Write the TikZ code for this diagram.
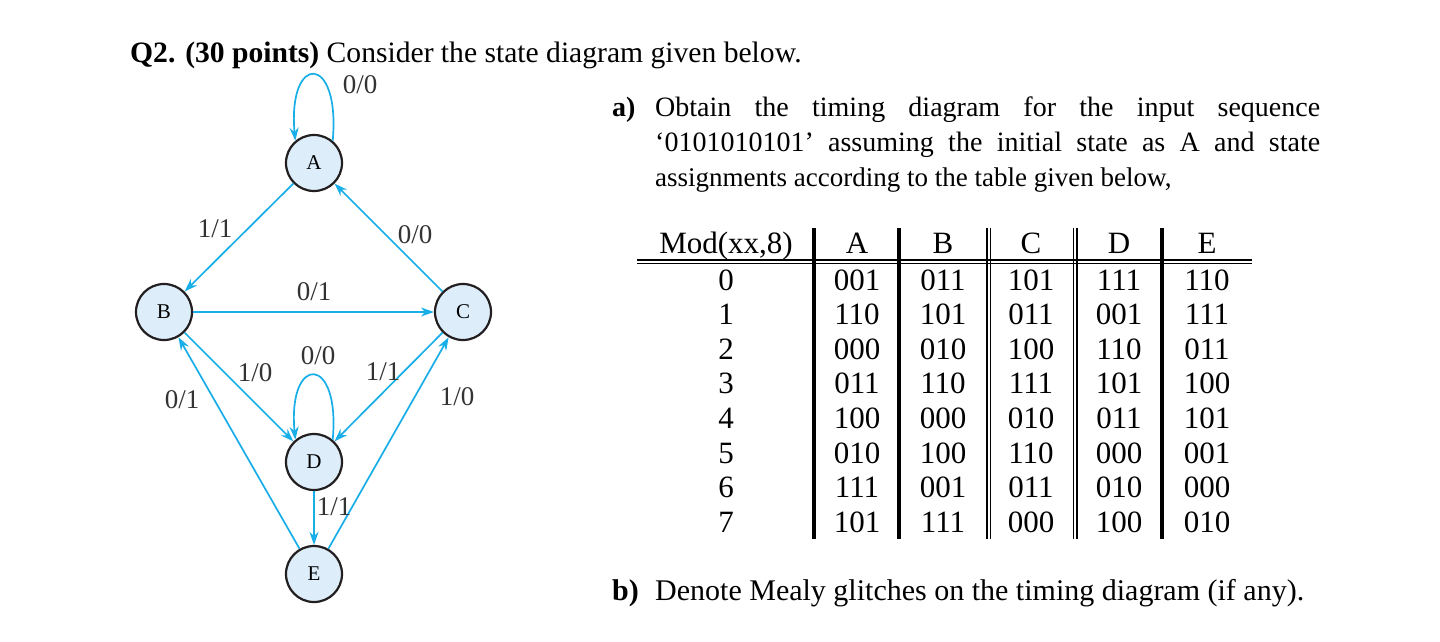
\documentclass[tikz,border=0pt]{standalone}
\usepackage{fontspec}
\setmainfont{Liberation Serif}
\usetikzlibrary{arrows.meta}
\definecolor{arrowcol}{HTML}{18AEE8}
\definecolor{nodefill}{HTML}{DDEEFA}
\definecolor{nodeborder}{HTML}{231F20}
\definecolor{labelcol}{HTML}{333333}
\begin{document}
\begin{tikzpicture}[x=1pt,y=-1pt,
  st/.style={circle,draw=nodeborder,line width=2.2pt,fill=nodefill,minimum size=56pt,inner sep=0pt,font=\fontsize{21}{21}\selectfont},
  edge/.style={draw=arrowcol,line width=1.7pt,-{Stealth[length=13pt,width=9pt]}},
  lbl/.style={font=\fontsize{27}{27}\selectfont,text=labelcol,inner sep=0pt},
  txt/.style={font=\fontsize{28}{28}\selectfont,inner sep=0pt,anchor=base west},
  cell/.style={font=\fontsize{31}{31}\selectfont,inner sep=0pt,anchor=base},
  heavyrule/.style={line width=4pt},
  lightrule/.style={line width=1.7pt}]
\useasboundingbox[fill=white] (0,0) rectangle (1440,641);

% title
\node[txt,font=\fontsize{29.6}{29.6}\selectfont] (title) at (130,62) {\textbf{Q2. (30 points)} Consider the state diagram given below.};

% states
\node[st] (A) at (314,163) {A};
\node[st] (B) at (164,312) {B};
\node[st] (C) at (463,312) {C};
\node[st] (D) at (314,462) {D};
\node[st] (E) at (314,574) {E};

% transitions
\draw[edge] (A.50) .. controls +(8,-88) and +(-8,-88) .. (A.130);
\draw[edge] (D.50) .. controls +(8,-86) and +(-8,-86) .. (D.130);
\draw[edge] (A) -- (B);
\draw[edge] (C) -- (A);
\draw[edge] (B) -- (C);
\draw[edge] (B) -- (D);
\draw[edge] (C) -- (D);
\draw[edge] (D) -- (E);
\draw[edge] (E) -- (B);
\draw[edge] (E) -- (C);

% transition labels
\node[lbl] (lAA) at (360,85) {0/0};
\node[lbl] (lAB) at (215,229) {1/1};
\node[lbl] (lCA) at (415,235) {0/0};
\node[lbl] (lBC) at (314,292) {0/1};
\node[lbl] (lDD) at (318,356) {0/0};
\node[lbl] (lBD) at (255,373) {1/0};
\node[lbl] (lCD) at (383,372) {1/1};
\node[lbl] (lEB) at (182,400) {0/1};
\node[lbl] (lEC) at (457,397) {1/0};
\node[lbl] (lDE) at (334,507) {1/1};

% part a
\node[txt] (alab) at (612,116) {\textbf{a)}};
\node[txt] (a1) at (655,116) {\makebox[665pt][s]{Obtain the timing diagram for the input sequence}};
\node[txt] (a2) at (655,151) {\makebox[665pt][s]{‘0101010101’ assuming the initial state as A and state}};
\node[txt,font=\fontsize{27}{27}\selectfont] (a3) at (655,186) {assignments according to the table given below,};

% table rules
\draw[lightrule] (637,260.2) -- (1252,260.2);
\draw[lightrule] (637,263.6) -- (1252,263.6);
\foreach \xx in {814,899,1162} \draw[heavyrule] (\xx,228) -- (\xx,539);
\foreach \xx in {987,990.4,1073.5,1076.9} \draw[lightrule] (\xx,228) -- (\xx,539);

% table header
\node[cell] (hM) at (726,253) {Mod(xx,8)};
\node[cell] (hA) at (857,253) {A};
\node[cell] (hB) at (943,253) {B};
\node[cell] (hC) at (1031,253) {C};
\node[cell] (hD) at (1119,253) {D};
\node[cell] (hE) at (1207,253) {E};

% table body
\foreach \r/\va/\vb/\vc/\vd/\ve [count=\i from 0] in
  {0/001/011/101/111/110, 1/110/101/011/001/111, 2/000/010/100/110/011,
   3/011/110/111/101/100, 4/100/000/010/011/101, 5/010/100/110/000/001,
   6/111/001/011/010/000, 7/101/111/000/100/010} {
  \pgfmathsetmacro\yy{290+34.6*\i}
  \node[cell] (m\i) at (726,\yy) {\r};
  \node[cell] (ca\i) at (857,\yy) {\va};
  \node[cell] (cb\i) at (943,\yy) {\vb};
  \node[cell] (cc\i) at (1031,\yy) {\vc};
  \node[cell] (cd\i) at (1119,\yy) {\vd};
  \node[cell] (ce\i) at (1207,\yy) {\ve};
}

% part b
\node[txt,font=\fontsize{30}{30}\selectfont] (blab) at (612,600) {\textbf{b)}};
\node[txt,font=\fontsize{30}{30}\selectfont] (b1) at (655,600) {Denote Mealy glitches on the timing diagram (if any).};
\end{tikzpicture}
\end{document}
